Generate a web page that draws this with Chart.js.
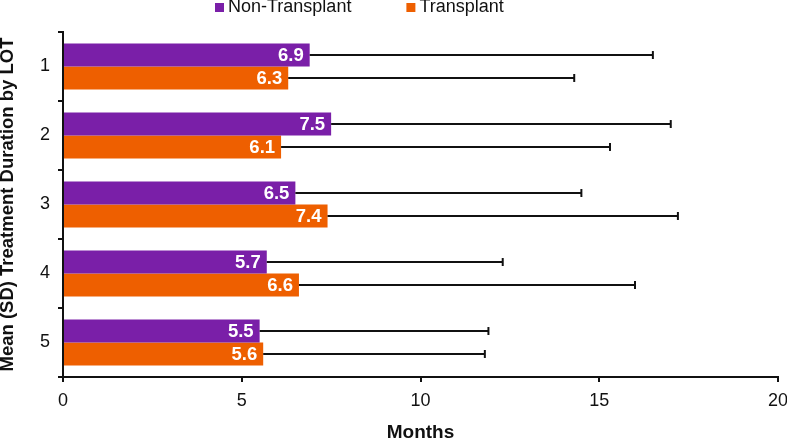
<!DOCTYPE html>
<html>
<head>
<meta charset="utf-8">
<script src="https://cdn.jsdelivr.net/npm/chart.js@4"></script>
<style>
  html, body { margin: 0; padding: 0; background: #fff; }
  #wrap { width: 787px; height: 438px; }
</style>
</head>
<body>
<div id="wrap"><canvas id="c" width="787" height="438"></canvas></div>
<script>
const categories = ['1', '2', '3', '4', '5'];
const seriesNames = ['Non-Transplant', 'Transplant'];
const nonTransplantMean = [6.9, 7.5, 6.5, 5.7, 5.5];
const nonTransplantSD = [9.6, 9.5, 8.0, 6.6, 6.4];
const transplantMean = [6.3, 6.1, 7.4, 6.6, 5.6];
const transplantSD = [8.0, 9.2, 9.8, 9.4, 6.2];
const xTickValues = [0, 5, 10, 15, 20];

const FONT = "'Liberation Sans', Arial, sans-serif";
const PURPLE = '#7A1FA8';
const ORANGE = '#EE5F00';

const errorBarsAndLabels = {
  id: 'errorBarsAndLabels',
  afterDatasetsDraw(chart) {
    const ctx = chart.ctx;
    const xScale = chart.scales.x;
    const sds = [nonTransplantSD, transplantSD];
    chart.data.datasets.forEach((ds, di) => {
      const meta = chart.getDatasetMeta(di);
      meta.data.forEach((bar, i) => {
        const mean = ds.data[i];
        const endX = xScale.getPixelForValue(mean + sds[di][i]);
        ctx.save();
        ctx.strokeStyle = '#111';
        ctx.lineWidth = 2;
        ctx.beginPath();
        ctx.moveTo(bar.x, bar.y);
        ctx.lineTo(endX, bar.y);
        ctx.stroke();
        ctx.beginPath();
        ctx.moveTo(endX, bar.y - 4);
        ctx.lineTo(endX, bar.y + 4);
        ctx.stroke();
        ctx.fillStyle = '#fff';
        ctx.font = 'bold 18.5px ' + FONT;
        ctx.textAlign = 'right';
        ctx.textBaseline = 'middle';
        ctx.fillText(mean.toFixed(1), bar.x - 6, bar.y + 1);
        ctx.restore();
      });
    });
  },
  afterDraw(chart) {
    const ctx = chart.ctx;
    ctx.save();
    ctx.font = '18px ' + FONT;
    ctx.textBaseline = 'middle';
    ctx.textAlign = 'left';
    let x = 215;
    chart.data.datasets.forEach((ds) => {
      ctx.fillStyle = ds.backgroundColor;
      ctx.fillRect(x, 3, 9, 9);
      ctx.fillStyle = '#111';
      ctx.fillText(ds.label, x + 13, 7.5);
      x += 13 + ctx.measureText(ds.label).width + 55;
    });
    ctx.restore();
  }
};

new Chart(document.getElementById('c'), {
  type: 'bar',
  data: {
    labels: categories,
    datasets: [
      { label: seriesNames[0], data: nonTransplantMean, backgroundColor: PURPLE },
      { label: seriesNames[1], data: transplantMean, backgroundColor: ORANGE }
    ]
  },
  options: {
    indexAxis: 'y',
    responsive: false,
    animation: false,
    devicePixelRatio: 1,
    categoryPercentage: 0.665,
    barPercentage: 1.0,
    layout: { padding: { top: 32, right: 9, bottom: 0, left: 0 } },
    plugins: {
      legend: { display: false },
      tooltip: { enabled: false }
    },
    scales: {
      x: {
        min: 0,
        max: 20,
        afterBuildTicks: (s) => { s.ticks = xTickValues.map(v => ({ value: v })); },
        afterFit: (s) => { s.paddingRight = 0; s.paddingLeft = 0; s.height = 61; },
        grid: { drawOnChartArea: false, drawTicks: true, tickLength: 5, color: '#111', lineWidth: 2 },
        border: { color: '#111', width: 2 },
        ticks: { color: '#111', font: { family: FONT, size: 18 }, padding: 8 },
        title: {
          display: true,
          text: 'Months',
          color: '#111',
          font: { family: FONT, size: 19, weight: 'bold', lineHeight: 0.6 },
          padding: { top: 0, bottom: 0 }
        }
      },
      y: {
        afterFit: (s) => { s.width = 63; s.paddingTop = 0; s.paddingBottom = 0; },
        grid: { drawOnChartArea: false, drawTicks: true, tickLength: 5, color: '#111', lineWidth: 2 },
        border: { color: '#111', width: 2 },
        ticks: { color: '#111', font: { family: FONT, size: 18 }, padding: 8 },
        title: {
          display: true,
          text: 'Mean (SD) Treatment Duration by LOT',
          color: '#111',
          font: { family: FONT, size: 18.5, weight: 'bold', lineHeight: 0.9 },
          padding: { top: 0, bottom: 0 }
        }
      }
    }
  },
  plugins: [errorBarsAndLabels]
});
</script>
</body>
</html>
